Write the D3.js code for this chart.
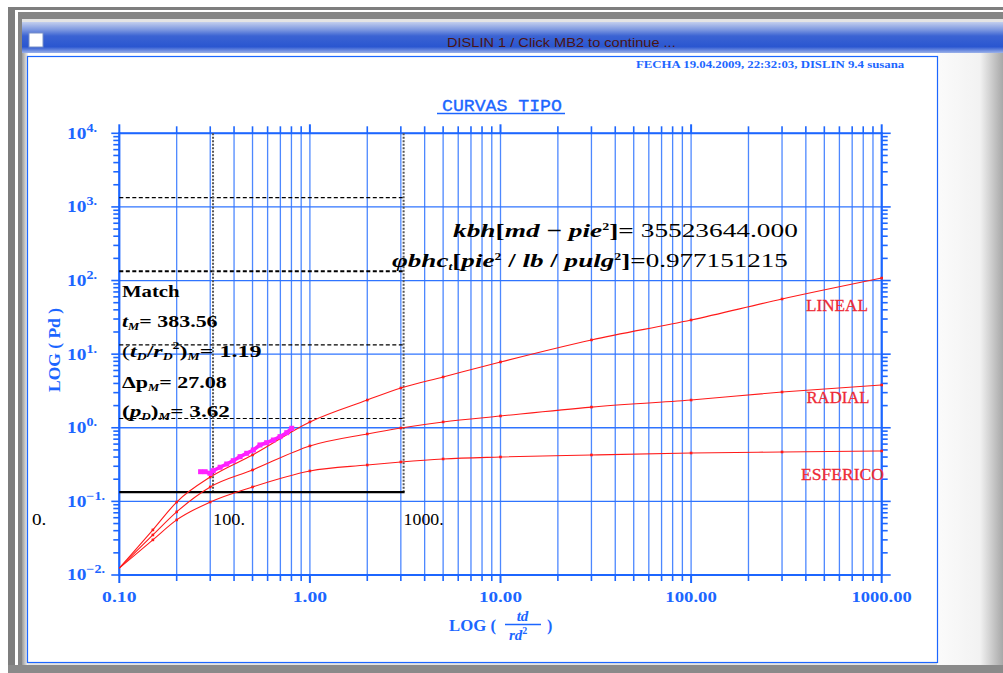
<!DOCTYPE html>
<html><head><meta charset="utf-8">
<script src="https://cdn.jsdelivr.net/npm/d3@7"></script>
<style>body{margin:0;background:#fff;overflow:hidden}</style>
</head><body><svg id="c" width="1003" height="673"></svg>
<script>
// ---------------- DATA ----------------
const tdValues   = [0.1,0.15,0.2,0.3,0.5,1,2,3,5,10,30,100,300,1000];
const linealPd   = [0.0124,0.041,0.098,0.214,0.427,1.20,2.38,3.47,4.9,7.83,15.6,29.1,56.1,108];
const radialPd   = [0.0124,0.035,0.072,0.157,0.267,0.566,0.824,0.993,1.2,1.445,1.91,2.38,3.06,3.81];
const esfericoPd = [0.0124,0.030,0.056,0.098,0.157,0.259,0.312,0.343,0.377,0.401,0.427,0.454,0.469,0.484];
const curveNames = ["LINEAL","RADIAL","ESFERICO"];
// field data (already shifted by the match) in tD / pD
const fieldTd = [0.267,0.282,0.299,0.311,0.338,0.366,0.396,0.430,0.466,0.505,0.547,0.593,0.643,0.697,0.756,0.803];
const fieldPd = [0.253,0.253,0.241,0.261,0.291,0.322,0.357,0.405,0.450,0.499,0.584,0.627,0.682,0.757,0.857,0.984];
// match point
const matchT = 383.56, matchTdRd2 = 1.19, matchDp = 27.08, matchPdM = 3.62;
const overlayTimeTicks = [10,100,1000];
const overlayTimeLabels = ["10.","100.","1000."];
const overlayDpLines = [1,10,100,1000,10000];
const xTickLabels = ["0.10","1.00","10.00","100.00","1000.00"];
const xTickValues = [0.1,1,10,100,1000];
const yTickValues = [1e-2,1e-1,1e0,1e1,1e2,1e3,1e4];
const yTickExps = ["\u22122.","\u22121.","0.","1.","2.","3.","4."];
const kbhText = "35523644.000";
const phiText = "0.977151215";

// ---------------- LAYOUT ----------------
const svg = d3.select('#c');
const W = 1003, H = 673;
const blue = '#1c66ff', gridBlue = '#2f74ff', red = '#ff1a1a';
const x = d3.scaleLog().domain([0.1,1000]).range([119.3,881.7]);
const y = d3.scaleLog().domain([0.01,10000]).range([575,133.3]);
const tScale = matchTdRd2/matchT;     // t -> tD
const pScale = matchPdM/matchDp;      // dp -> pD

function fit(sel, x0, w){
  const bb = sel.node().getBBox();
  if(bb.width>0){ const k = w/bb.width;
    sel.attr('transform',`translate(${x0},0) scale(${k},1) translate(${-x0},0)`);}
  return sel;
}
function rich(g, x0, y0, parts, opts){
  const t = g.append('text').attr('x',x0).attr('y',y0)
    .attr('font-family',opts.font||'Liberation Serif').attr('font-size',opts.size)
    .attr('fill',opts.fill||'#000').attr('font-weight',opts.weight||'normal');
  parts.forEach(p=>{
    const ts = t.append('tspan').text(p.t);
    if(p.dy) ts.attr('dy',p.dy);
    if(p.size) ts.attr('font-size',p.size);
    if(p.italic) ts.attr('font-style','italic');
    if(p.weight) ts.attr('font-weight',p.weight);
  });
  return t;
}

// ---------------- WINDOW FRAME ----------------
svg.append('rect').attr('width',W).attr('height',H).attr('fill','#fff');
svg.append('rect').attr('x',8).attr('y',7).attr('width',W).attr('height',H).attr('fill','#7e7e7e');
svg.append('rect').attr('x',15).attr('y',10).attr('width',W).attr('height',H).attr('fill','#fff');
svg.append('rect').attr('x',18).attr('y',12).attr('width',W).attr('height',H).attr('fill','#858585');
svg.append('rect').attr('x',22).attr('y',19).attr('width',W).attr('height',H).attr('fill','#e4e4e4');
const defs = svg.append('defs');
const gr = defs.append('linearGradient').attr('id','tb').attr('x1',0).attr('y1',0).attr('x2',0).attr('y2',1);
[[0,'#c3cfee'],[0.25,'#7d98e0'],[0.45,'#3b63d3'],[0.8,'#2a56d0'],[1,'#9cb2ea']].forEach(s=>gr.append('stop').attr('offset',s[0]).attr('stop-color',s[1]));
const gr2 = defs.append('linearGradient').attr('id','rg').attr('x1',0).attr('y1',0).attr('x2',1).attr('y2',0);
[[0,'#fbfbfb'],[0.65,'#f2f2f2'],[1,'#a8a8a8']].forEach(s=>gr2.append('stop').attr('offset',s[0]).attr('stop-color',s[1]));
const gr3 = defs.append('linearGradient').attr('id','lg').attr('x1',0).attr('y1',0).attr('x2',1).attr('y2',0);
[[0,'#9a9a9a'],[1,'#f4f4f4']].forEach(s=>gr3.append('stop').attr('offset',s[0]).attr('stop-color',s[1]));
svg.append('rect').attr('x',22).attr('y',22).attr('width',W-22).attr('height',31).attr('fill','url(#tb)');
svg.append('rect').attr('x',29).attr('y',33).attr('width',14).attr('height',14).attr('fill','#fff').attr('stroke','#7890c8');
const tt = svg.append('text').attr('x',447).attr('y',47)
  .attr('font-family','Liberation Sans Narrow, Liberation Sans').attr('font-size',13).attr('fill','#4a1414')
  .text('DISLIN 1 / Click MB2 to continue ...');
fit(tt, 447, 229);
// page area
svg.append('rect').attr('x',22).attr('y',53).attr('width',6).attr('height',H-53-8).attr('fill','url(#lg)');
svg.append('rect').attr('x',937).attr('y',53).attr('width',W-937).attr('height',H-53-8).attr('fill','url(#rg)');
svg.append('rect').attr('x',28).attr('y',53).attr('width',909).attr('height',4).attr('fill','#fff');
svg.append('rect').attr('x',27.5).attr('y',56.5).attr('width',910).attr('height',606).attr('fill','#fff').attr('stroke',blue).attr('stroke-width',1.2);
svg.append('rect').attr('x',8).attr('y',H-8).attr('width',W).attr('height',8).attr('fill','#8a8a8a');

const clip = defs.append('clipPath').attr('id','page');
clip.append('rect').attr('x',28).attr('y',57).attr('width',909).attr('height',605);
const clip2 = defs.append('clipPath').attr('id','page2');
clip2.append('rect').attr('x',31).attr('y',57).attr('width',906).attr('height',605);
const g = svg.append('g').attr('clip-path','url(#page)');

// header
const hd = g.append('text').attr('x',636).attr('y',68).attr('font-family','Liberation Serif').attr('font-weight','bold')
  .attr('font-size',9.5).attr('fill',blue).text('FECHA 19.04.2009, 22:32:03, DISLIN 9.4 susana');
fit(hd,636,269);
// title
const ti = g.append('text').attr('x',442).attr('y',111.5).attr('font-family','Liberation Mono').attr('font-size',17)
  .attr('fill',blue).attr('stroke',blue).attr('stroke-width',0.35).text('CURVAS TIPO');
fit(ti,442,120);
g.append('line').attr('x1',437).attr('x2',565).attr('y1',113.5).attr('y2',113.5).attr('stroke',blue).attr('stroke-width',1.3);

// ---------------- GRID ----------------
const minorX = [];
for(let d=-1; d<3; d++) for(let m=1; m<10; m++) minorX.push(m*Math.pow(10,d));
minorX.push(1000);
const minorY = [];
for(let d=-2; d<4; d++) for(let m=1; m<10; m++) minorY.push(m*Math.pow(10,d));
minorY.push(10000);

g.append('g').selectAll('line').data(minorX).join('line')
  .attr('x1',d=>x(d)).attr('x2',d=>x(d)).attr('y1',y(1e4)).attr('y2',y(1e-2))
  .attr('stroke',gridBlue).attr('stroke-width',1.3).attr('opacity',0.85);
g.append('g').selectAll('line').data(yTickValues).join('line')
  .attr('x1',x(0.1)).attr('x2',x(1000)).attr('y1',d=>y(d)).attr('y2',d=>y(d))
  .attr('stroke',gridBlue).attr('stroke-width',1.3);

// axes (ticks outward)
const isMajor = v => Math.abs(Math.log10(v)-Math.round(Math.log10(v)))<1e-9;
const ax = g.append('g').attr('stroke',blue);
ax.selectAll('.tb').data(minorX).join('line').attr('x1',d=>x(d)).attr('x2',d=>x(d))
  .attr('y1',y(0.01)).attr('y2',d=>y(0.01)+(isMajor(d)?8:6)).attr('stroke-width',d=>isMajor(d)?2:1.6);
ax.selectAll('.tt').data(minorX).join('line').attr('x1',d=>x(d)).attr('x2',d=>x(d))
  .attr('y1',y(1e4)).attr('y2',d=>y(1e4)-(isMajor(d)?9:7)).attr('stroke-width',d=>isMajor(d)?2:1.6);
ax.selectAll('.tl').data(minorY).join('line').attr('y1',d=>y(d)).attr('y2',d=>y(d))
  .attr('x1',d=>x(0.1)-(isMajor(d)?8:6)).attr('x2',x(0.1)).attr('stroke-width',1.6);
ax.selectAll('.tr').data(minorY).join('line').attr('y1',d=>y(d)).attr('y2',d=>y(d))
  .attr('x1',x(1000)).attr('x2',d=>x(1000)+(isMajor(d)?9:6)).attr('stroke-width',1.6);
ax.append('line').attr('x1',x(0.1)).attr('x2',x(0.1)).attr('y1',y(1e4)-1).attr('y2',y(0.01)+1).attr('stroke-width',2.2);
ax.append('line').attr('x1',x(1000)).attr('x2',x(1000)).attr('y1',y(1e4)-1).attr('y2',y(0.01)+1).attr('stroke-width',2.2);
ax.append('line').attr('x1',x(0.1)).attr('x2',x(1000)).attr('y1',y(0.01)).attr('y2',y(0.01)).attr('stroke-width',2);
ax.append('line').attr('x1',x(0.1)).attr('x2',x(1000)).attr('y1',y(1e4)).attr('y2',y(1e4)).attr('stroke-width',2);

// x tick labels
xTickValues.forEach((v,i)=>{
  const w = xTickLabels[i].length*8.6;
  const t = g.append('text').attr('x',x(v)-w/2).attr('y',602.5)
    .attr('font-family','Liberation Serif').attr('font-weight','bold').attr('font-size',15).attr('fill',blue)
    .text(xTickLabels[i]);
  fit(t, x(v)-w/2, w);
});
// y tick labels
yTickValues.forEach((v,i)=>{
  const t = rich(g, 67, y(v)+5.5, [{t:'10'},{t:yTickExps[i],dy:-7,size:12}], {size:16.5,fill:blue,weight:'bold'});
  fit(t, 67, i<2 ? 38 : 30);
});
// axis titles
const yt = g.append('text').attr('x',0).attr('y',0).attr('transform','translate(59.5,350) rotate(-90)').attr('text-anchor','middle')
  .attr('font-family','Liberation Serif').attr('font-weight','bold').attr('font-size',16).attr('fill',blue)
  .attr('textLength',84).attr('lengthAdjust','spacingAndGlyphs')
  .text('LOG ( Pd )');
const xt = g.append('g').attr('fill',blue).attr('font-family','Liberation Serif').attr('font-weight','bold');
fit(xt.append('text').attr('x',449).attr('y',631).attr('font-size',16).text('LOG ('),449,47);
xt.append('text').attr('x',522.5).attr('y',621).attr('font-size',15).attr('text-anchor','middle').attr('font-style','italic').text('td');
xt.append('line').attr('x1',505).attr('x2',541).attr('y1',624.5).attr('y2',624.5).attr('stroke',blue).attr('stroke-width',1.3);
rich(xt, 509, 640, [{t:'rd',italic:true},{t:'2',dy:-6,size:10}], {size:15,fill:blue,weight:'bold'});
xt.append('text').attr('x',547).attr('y',631).attr('font-size',16).text(')');

// ---------------- OVERLAY (data paper) ----------------
const ov = g.append('g');
const tx = t => x(t*tScale);
const py = p => y(p*pScale);
const xLeft = x(0.1), xRight = tx(1000), yBot = py(1);
overlayDpLines.slice(1).forEach((p,i)=>{
  ov.append('line').attr('x1',xLeft).attr('x2',xRight).attr('y1',py(p)).attr('y2',py(p))
    .attr('stroke','#000').attr('stroke-width',p===1000?2:1.1).attr('stroke-dasharray','4,2.5');
});
[100,1000].forEach(t=>{
  ov.append('line').attr('x1',tx(t)).attr('x2',tx(t)).attr('y1',y(1e4)).attr('y2',yBot)
    .attr('stroke','#555').attr('stroke-width',2).attr('stroke-dasharray','2,1.5');
});
ov.append('line').attr('x1',xLeft).attr('x2',xRight+1).attr('y1',yBot).attr('y2',yBot).attr('stroke','#000').attr('stroke-width',2.2);
const ovl = svg.append('g').attr('clip-path','url(#page2)');
overlayTimeTicks.forEach((t,i)=>{
  const lt = ovl.append('text').attr('x',tx(t)).attr('y',525.5).attr('font-family','Liberation Serif').attr('font-size',17)
    .attr('fill','#000').text(overlayTimeLabels[i]);
  fit(lt, tx(t), overlayTimeLabels[i].length*8);
});

// ---------------- CURVES ----------------
const line = d3.line().x(d=>x(d[0])).y(d=>y(d[1])).curve(d3.curveMonotoneX);
[linealPd, radialPd, esfericoPd].forEach(arr=>{
  const pts = tdValues.map((t,i)=>[t,arr[i]]);
  g.append('path').attr('d',line(pts)).attr('fill','none').attr('stroke',red).attr('stroke-width',1.1);
  g.append('g').selectAll('rect').data(pts.slice(1)).join('rect')
    .attr('x',d=>x(d[0])-1.3).attr('y',d=>y(d[1])-1.3).attr('width',2.6).attr('height',2.6).attr('fill',red);
});
// curve labels
[[806,311.5,62],[806.5,403,63],[801,480,83]].forEach((p,i)=>{
  const t = g.append('text').attr('x',p[0]).attr('y',p[1]).attr('font-family','Liberation Serif')
    .attr('font-size',17).attr('fill','#ee2a36').attr('stroke','#ee2a36').attr('stroke-width',0.3).text(curveNames[i]);
  fit(t,p[0],p[2]);
});
// field data
const fpts = fieldTd.map((t,i)=>[t,fieldPd[i]]);
g.append('path').attr('d',d3.line().x(d=>x(d[0])).y(d=>y(d[1]))(fpts)).attr('fill','none')
  .attr('stroke','#ff1aff').attr('stroke-width',3.6).attr('stroke-linejoin','round');
g.append('g').selectAll('rect').data(fpts).join('rect')
  .attr('x',d=>x(d[0])-2.5).attr('y',d=>y(d[1])-2.5).attr('width',5).attr('height',5).attr('fill','#ff22ff');

// ---------------- MATCH TEXT ----------------
const fs = 17.5;
const mt = g.append('g');
fit(rich(mt,122,297,[{t:'Match'}],{size:fs,weight:'bold'}),122,58);
fit(rich(mt,122,327,[{t:'t',italic:true},{t:'M',dy:3,size:10,italic:true},{t:'= '+matchT.toFixed(2),dy:-3}],{size:fs,weight:'bold'}),122,96);
fit(rich(mt,122,357,[{t:'(',weight:'normal'},{t:'t',italic:true},{t:'D',dy:3,size:10,italic:true},{t:'/',dy:-3},{t:'r',italic:true},{t:'D',dy:3,size:10,italic:true},{t:'2',dy:-11,size:10},{t:')',dy:8},{t:'M',dy:3,size:10,italic:true},{t:'= '+matchTdRd2.toFixed(2),dy:-3}],{size:fs,weight:'bold'}),122,140);
fit(rich(mt,122,388,[{t:'\u0394p',italic:false},{t:'M',dy:3,size:10,italic:true},{t:'= '+matchDp.toFixed(2),dy:-3}],{size:fs,weight:'bold'}),122,105);
fit(rich(mt,122,417,[{t:'('},{t:'p',italic:true},{t:'D',dy:3,size:10,italic:true},{t:')',dy:-3},{t:'M',dy:3,size:10,italic:true},{t:'=  '+matchPdM.toFixed(2),dy:-3}],{size:fs,weight:'bold'}),122,108);

// formulas
fit(rich(g,453,237,[{t:'kbh',italic:true},{t:'['},{t:'md',italic:true},{t:' \u2212 '},{t:'pie',italic:true},{t:'2',dy:-7,size:10},{t:']=  ',dy:7},{t:kbhText,weight:'normal'}],{size:19.5,weight:'bold'}),453,345);
fit(rich(g,392,267,[{t:'\u03c6bhc',italic:true},{t:'t',dy:3,size:10,italic:true},{t:'[',dy:-3},{t:'pie',italic:true},{t:'2',dy:-7,size:10},{t:' / ',dy:7},{t:'lb',italic:true},{t:' / '},{t:'pulg',italic:true},{t:'2',dy:-7,size:10},{t:']=',dy:7},{t:phiText,weight:'normal'}],{size:19.5,weight:'bold'}),392,396);
</script></body></html>
